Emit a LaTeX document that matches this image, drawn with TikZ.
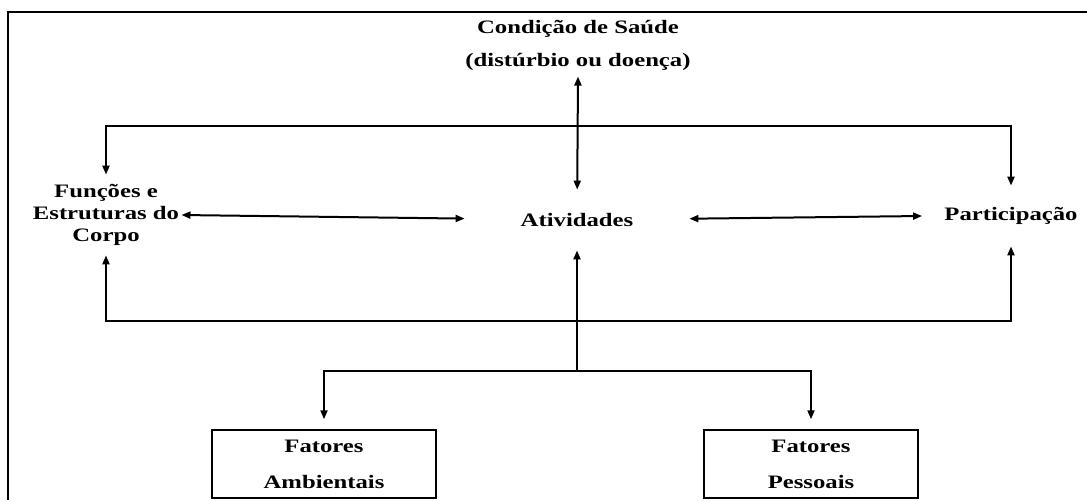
\documentclass[tikz,border=0pt]{standalone}
\usepackage{fontspec}
\setmainfont{Liberation Serif}[FakeStretch=1.3]
\usetikzlibrary{arrows.meta,positioning}

\begin{document}
\begin{tikzpicture}[
  x=0.5pt,y=-0.5pt,
  >={Triangle[length=4.5pt,width=3.5pt]},
  lbl/.style={font=\bfseries\fontsize{9.5}{11}\selectfont,align=center,inner sep=0pt},
  factorbox/.style={lbl,draw,line width=0.75pt,minimum height=34pt},
  link/.style={line width=1pt}
]
  \useasboundingbox (0,0) rectangle (1087,500);
  \draw[line width=1.2pt] (1087,12) -- (8,12) -- (8,500);

  \node[lbl] (cond) at (578,45) {Condição de Saúde\\[5.5pt](distúrbio ou doença)};
  \node[lbl,minimum width=112pt,minimum height=30pt] (ativ) at (577,220) {Atividades};
  \node[lbl,minimum height=40pt] (fec) at (106,215) {Funções e\\Estruturas do\\Corpo};
  \node[lbl,minimum height=30pt] (part) at (1011,216) {Participação};
  \node[factorbox,minimum width=112pt] (amb) at (324,464) {Fatores\\[7pt]Ambientais};
  \node[factorbox,minimum width=107pt] (pes) at (811,464) {Fatores\\[7pt]Pessoais};

  \coordinate (topbus) at (577,126);
  \coordinate (botbus) at (577,321);
  \coordinate (split) at (577,371);

  \draw[link,<->] ([yshift=-3pt]cond.south) -- (ativ);
  \draw[link,<->] (fec) |- (topbus) -| (part);
  \draw[link,<->] (fec) |- (botbus) -| (part);
  \draw[link,<->] ([xshift=1pt]fec.east) -- (ativ);
  \draw[link,<->] (ativ) -- ([xshift=-11pt]part.west);
  \draw[link,->] (split) -- (ativ);
  \draw[link,->,shorten >=5pt] (split) -| (amb);
  \draw[link,->,shorten >=5pt] (split) -| (pes);
\end{tikzpicture}
\end{document}
